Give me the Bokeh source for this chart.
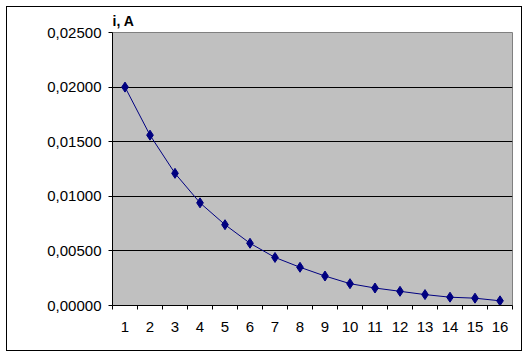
from bokeh.plotting import figure
from bokeh.models import FixedTicker, CustomJSTickFormatter, Range1d, ColumnDataSource
from bokeh.embed import file_html
from bokeh.resources import INLINE

n = list(range(1, 17))
current = [0.0200, 0.0156, 0.0121, 0.0094, 0.0074, 0.0057, 0.0044, 0.0035,
           0.0027, 0.0020, 0.0016, 0.0013, 0.0010, 0.00076, 0.00067, 0.00043]
y_ticks = [0.0, 0.005, 0.010, 0.015, 0.020, 0.025]

src = ColumnDataSource(dict(n=n, i=current))

p = figure(width=516, height=345, output_backend="svg", toolbar_location=None,
           x_range=Range1d(0.5, 16.5), y_range=Range1d(0, 0.025),
           min_border_left=105, min_border_right=11, min_border_top=25,
           min_border_bottom=47, title="i, A")
p.margin = (6, 6, 6, 6)
p.styles = {"border": "1px solid black", "box-sizing": "border-box"}

p.title.text_font = "Liberation Sans"
p.title.text_font_size = "14px"
p.title.text_font_style = "bold"
p.title.text_color = "black"
p.title.align = "left"
p.title.offset = 0
p.title.standoff = 7

p.border_fill_color = "white"
p.background_fill_color = "#C0C0C0"
p.outline_line_color = "#808080"
p.outline_line_width = 1

p.xgrid.visible = False
p.ygrid.grid_line_color = "black"
p.ygrid.grid_line_width = 1
p.ygrid.ticker = FixedTicker(ticks=y_ticks)

p.yaxis.ticker = FixedTicker(ticks=y_ticks)
p.yaxis.formatter = CustomJSTickFormatter(code="return tick.toFixed(5).replace('.', ',');")
p.yaxis.major_tick_out = 4
p.yaxis.major_tick_in = 0
p.yaxis.minor_tick_out = 0
p.yaxis.minor_tick_in = 0
p.yaxis.major_label_standoff = 7

p.xaxis.ticker = FixedTicker(ticks=n, minor_ticks=[k + 0.5 for k in range(0, 17)])
p.xaxis.major_tick_out = 0
p.xaxis.major_tick_in = 0
p.xaxis.minor_tick_out = 4
p.xaxis.minor_tick_in = 0
p.xaxis.minor_tick_line_color = "black"
p.xaxis.major_label_standoff = 12

for ax in (p.xaxis, p.yaxis):
    ax.axis_line_color = "black"
    ax.major_tick_line_color = "black"
    ax.major_label_text_font = "Liberation Sans"
    ax.major_label_text_font_size = "15px"
    ax.major_label_text_color = "black"

p.line("n", "i", source=src, line_color="#000080", line_width=1)
p.scatter("n", "i", source=src, marker="diamond", size=10,
          fill_color="#000080", line_color="#000080")

open("out.html", "w").write(file_html(p, INLINE))
